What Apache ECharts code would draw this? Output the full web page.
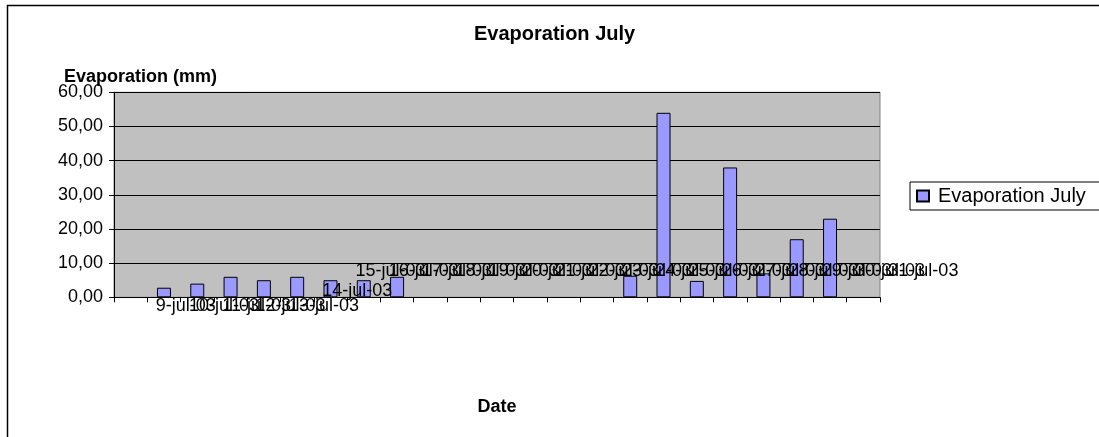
<!DOCTYPE html>
<html>
<head>
<meta charset="utf-8">
<title>Evaporation July</title>
<script src="https://cdn.jsdelivr.net/npm/echarts@6/dist/echarts.min.js"></script>
<style>
  html, body { margin: 0; padding: 0; background: #ffffff; }
  #chart { width: 1099px; height: 437px; }
</style>
</head>
<body>
<div id="chart"></div>
<script>
// Daily dates shown on the category axis
const dates = [
  '9-jul-03', '10-jul-03', '11-jul-03', '12-jul-03', '13-jul-03', '14-jul-03',
  '15-jul-03', '16-jul-03', '17-jul-03', '18-jul-03', '19-jul-03', '20-jul-03',
  '21-jul-03', '22-jul-03', '23-jul-03', '24-jul-03', '25-jul-03', '26-jul-03',
  '27-jul-03', '28-jul-03', '29-jul-03', '30-jul-03', '31-jul-03'
];

// Evaporation in mm (null = no reading)
const evaporation = [
  null, 2.8, 4.0, 6.0, 5.0, 6.0, 5.0, 5.0, 6.0,
  null, null, null, null, null, null,
  6.3, 54.0, 4.8, 38.0, 7.0, 17.0, 23.0, null
];

// Value axis ticks
const yTicks = [0, 10, 20, 30, 40, 50, 60];

const FONT = "'Liberation Sans', Arial, sans-serif";
const BAR = '#9999ff';

// Date labels are printed in three staggered rows
const rowOf = i => (i <= 4 ? 0 : (i === 5 ? 1 : 2));
const rowMargin = [0, -15, -35];

function dateAxis(row) {
  return {
    type: 'category',
    data: dates,
    gridIndex: 0,
    position: 'bottom',
    boundaryGap: true,
    z: 5,
    axisLine: { show: row === 0, lineStyle: { color: '#000', width: 1 } },
    axisTick: { show: row === 0, length: 5, lineStyle: { color: '#000' } },
    splitLine: { show: false },
    axisLabel: {
      interval: 0,
      hideOverlap: false,
      margin: rowMargin[row],
      align: 'left',
      padding: [0, 0, 0, 25],
      color: '#000',
      fontFamily: FONT,
      fontSize: 18,
      formatter: (v, i) => (rowOf(i) === row ? v : '')
    },
    name: row === 0 ? 'Date' : '',
    nameLocation: 'middle',
    nameGap: 101,
    nameTextStyle: { color: '#000', fontFamily: FONT, fontSize: 18, fontWeight: 'bold' }
  };
}

const chart = echarts.init(document.getElementById('chart'), null, { renderer: 'canvas' });

chart.setOption({
  backgroundColor: '#ffffff',
  animation: false,
  title: [
    {
      text: 'Evaporation July',
      left: 474,
      top: 24,
      padding: 0,
      textStyle: { color: '#000', fontFamily: FONT, fontSize: 20, fontWeight: 'bold' }
    },
    {
      text: 'Evaporation (mm)',
      left: 64,
      top: 68,
      padding: 0,
      textStyle: { color: '#000', fontFamily: FONT, fontSize: 18, fontWeight: 'bold' }
    }
  ],
  legend: {
    left: 910,
    top: 182,
    orient: 'vertical',
    padding: [4, 40, 4, 6],
    itemWidth: 12,
    itemHeight: 11,
    backgroundColor: '#ffffff',
    borderColor: '#000',
    borderWidth: 1,
    borderRadius: 0,
    icon: 'rect',
    textStyle: { color: '#000', fontFamily: FONT, fontSize: 20, padding: [0, 0, 0, 4] },
    data: ['Evaporation July']
  },
  grid: {
    left: 114,
    top: 92.3,
    right: 219,
    bottom: 139.7,
    show: true,
    backgroundColor: '#c0c0c0',
    borderColor: '#808080',
    borderWidth: 1
  },
  xAxis: [dateAxis(0), dateAxis(1), dateAxis(2)],
  yAxis: {
    type: 'value',
    min: yTicks[0],
    max: yTicks[yTicks.length - 1],
    interval: yTicks[1] - yTicks[0],
    axisLine: { show: true, lineStyle: { color: '#000', width: 1 } },
    axisTick: { show: true, length: 5, lineStyle: { color: '#000' } },
    splitLine: { show: true, lineStyle: { color: '#000', width: 1 } },
    axisLabel: {
      margin: 11,
      color: '#000',
      fontFamily: FONT,
      fontSize: 18,
      formatter: v => v.toFixed(2).replace('.', ',')
    }
  },
  series: [
    {
      name: 'Evaporation July',
      type: 'bar',
      xAxisIndex: 0,
      data: evaporation,
      barWidth: '42%',
      itemStyle: { color: BAR, borderColor: '#000', borderWidth: 1 }
    }
  ],
  graphic: [
    {
      type: 'rect',
      shape: { x: 7.5, y: 5.5, width: 1200, height: 600 },
      style: { fill: 'none', stroke: '#000', lineWidth: 1.5 },
      silent: true,
      z: 100
    }
  ]
});
</script>
</body>
</html>
